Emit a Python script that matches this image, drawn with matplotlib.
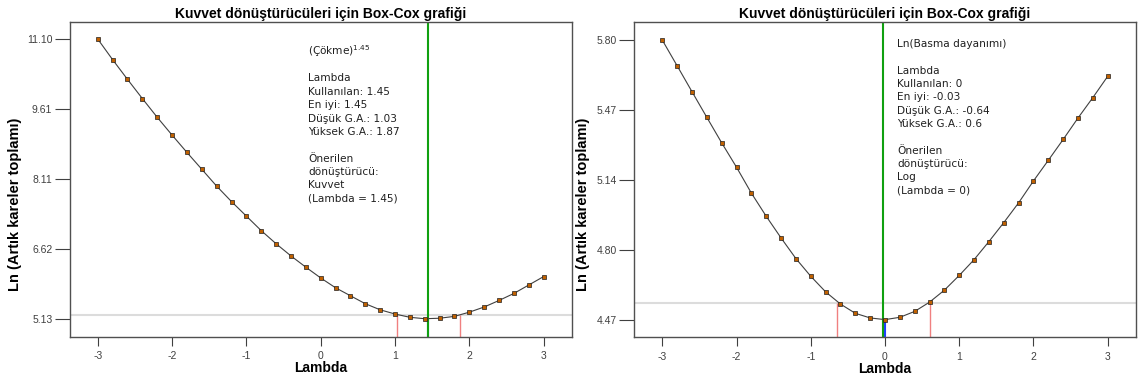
import matplotlib.pyplot as plt
import numpy as np

# lambda grid (same for both panels)
lam = [-3.0, -2.8, -2.6, -2.4, -2.2, -2.0, -1.8, -1.6, -1.4, -1.2, -1.0,
       -0.8, -0.6, -0.4, -0.2, 0.0, 0.2, 0.4, 0.6, 0.8, 1.0,
       1.2, 1.4, 1.6, 1.8, 2.0, 2.2, 2.4, 2.6, 2.8, 3.0]

# left panel: Ln(residual sum of squares)
ssr_left = [11.10, 10.66, 10.24, 9.83, 9.43, 9.05, 8.68, 8.32, 7.96, 7.63, 7.32,
            7.01, 6.73, 6.47, 6.23, 6.00, 5.79, 5.62, 5.45, 5.32, 5.23,
            5.16, 5.13, 5.14, 5.18, 5.27, 5.38, 5.52, 5.67, 5.85, 6.03]
# right panel
ssr_right = [5.80, 5.678, 5.555, 5.433, 5.312, 5.196, 5.073, 4.963, 4.860, 4.762, 4.678,
             4.604, 4.546, 4.502, 4.480, 4.472, 4.483, 4.511, 4.555, 4.612, 4.682,
             4.757, 4.843, 4.933, 5.027, 5.131, 5.229, 5.328, 5.430, 5.527, 5.628]

# lambda estimates: best, used, lower CI, upper CI, CI threshold
left_best, left_used, left_lo, left_hi, left_cut = 1.45, 1.45, 1.03, 1.87, 5.20
right_best, right_used, right_lo, right_hi, right_cut = -0.03, 0.0, -0.64, 0.60, 4.551

left_yticks = [5.13, 6.6225, 8.115, 9.6075, 11.10]
left_ylabels = ['5.13', '6.62', '8.11', '9.61', '11.10']
right_yticks = [4.47, 4.8025, 5.135, 5.4675, 5.80]
right_ylabels = ['4.47', '4.80', '5.14', '5.47', '5.80']
xticks = [-3, -2, -1, 0, 1, 2, 3]

title = 'Kuvvet dönüştürücüleri için Box-Cox grafiği'
ylabel = 'Ln (Artık kareler toplamı)'

left_head = '(Çökme)$^{1.45}$'
left_lines = ['Lambda', 'Kullanılan: 1.45', 'En iyi: 1.45', 'Düşük G.A.: 1.03',
              'Yüksek G.A.: 1.87', '', 'Önerilen', 'dönüştürücü:', 'Kuvvet',
              '(Lambda = 1.45)']
right_head = 'Ln(Basma dayanımı)'
right_lines = ['Lambda', 'Kullanılan: 0', 'En iyi: -0.03', 'Düşük G.A.: -0.64',
               'Yüksek G.A.: 0.6', '', 'Önerilen', 'dönüştürücü:', 'Log',
               '(Lambda = 0)']

W, H = 1143, 381
fig = plt.figure(figsize=(W / 100, H / 100), dpi=100)
bold = dict(fontweight='bold', family='Liberation Sans')


def panel(rect, y, yticks, ylabels, ylim, best, used, lo, hi, cut):
    ax = fig.add_axes(rect)
    ax.set_xlim(-3.377, 3.377)
    ax.set_ylim(*ylim)
    ax.axhline(cut, color='#dcdcdc', lw=1.5, zorder=1)
    ymin_val = min(y)
    bottom = ylim[0]
    ax.vlines([lo, hi], bottom, cut, color='#f08080', lw=1, zorder=2)
    ax.vlines(used, bottom, ymin_val, color='#1f3fff', lw=1.5, zorder=2)
    ax.axvline(best, color='#10a010', lw=1.5, zorder=2)
    ax.plot(lam, y, color='#404040', lw=0.8, zorder=3)
    ax.plot(lam, y, ls='none', marker='s', ms=2.6, mfc='#c06000',
            mec='#202020', mew=0.5, zorder=4)
    ax.set_xticks(xticks)
    ax.set_xticklabels([str(t) for t in xticks])
    ax.set_yticks(yticks)
    ax.set_yticklabels(ylabels)
    ax.tick_params(axis='y', length=10.5, width=0.8, color='#404040', pad=2,
                   labelsize=7.5, labelcolor='#404040')
    ax.tick_params(axis='x', length=6.5, width=0.8, color='#404040', pad=4,
                   labelsize=7.5, labelcolor='#404040')
    for t in ax.get_xticklabels() + ax.get_yticklabels():
        t.set_fontfamily('Liberation Sans')
    for s in ax.spines.values():
        s.set_color('#505050')
        s.set_linewidth(1)
    ax.set_title(title, fontsize=10, pad=3, **bold)
    ax.set_xlabel('Lambda', fontsize=10, labelpad=0, **bold)
    return ax


ax1 = panel([69.7 / W, 1 - 336.7 / H, 502 / W, 314.7 / H], ssr_left,
            left_yticks, left_ylabels, (4.746, 11.463),
            left_best, left_used, left_lo, left_hi, left_cut)
ax2 = panel([634.3 / W, 1 - 337.3 / H, 501.4 / W, 315.3 / H], ssr_right,
            right_yticks, right_ylabels, (4.388, 5.886),
            right_best, right_used, right_lo, right_hi, right_cut)

# y labels
fig.text(15 / W, 1 - 204 / H, ylabel, rotation=90, ha='center', va='center',
         fontsize=10.5, **bold)
fig.text(583 / W, 1 - 204 / H, ylabel, rotation=90, ha='center', va='center',
         fontsize=10.5, **bold)

# annotation text
txt = dict(fontsize=7.6, family='DejaVu Sans', color='#202020', va='center', ha='left')
fig.text(308 / W, 1 - 51 / H, left_head, **txt)
for i, s in enumerate(left_lines):
    fig.text(308 / W, 1 - (78.3 + i * 13.4) / H, s, **txt)
fig.text(897 / W, 1 - 44 / H, right_head, **txt)
for i, s in enumerate(right_lines):
    fig.text(897 / W, 1 - (70.7 + i * 13.3) / H, s, **txt)

fig.savefig('out.png', dpi=100)
